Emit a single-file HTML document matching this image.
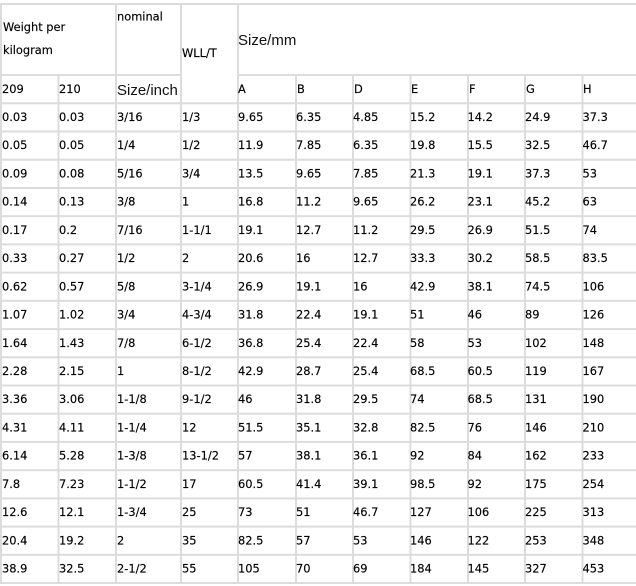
<!DOCTYPE html>
<html>
<head>
<meta charset="utf-8">
<style>
  html, body { margin: 0; padding: 0; background: #ffffff; }
  body { width: 636px; height: 586px; overflow: hidden; }
  svg { display: block; }
  .t { font-family: "DejaVu Sans", Verdana, sans-serif; font-size: 11.4px; fill: #000; stroke: #000; stroke-width: 0.15px; }
  .big { font-family: "Liberation Sans", Arial, sans-serif; font-size: 15px; fill: #111; }
</style>
</head>
<body>
<svg width="636" height="586" viewBox="0 0 636 586" xmlns="http://www.w3.org/2000/svg">
  <rect x="0" y="0" width="636" height="586" fill="#ffffff"/>
  <g fill="#dcdcdc">
    <rect x="0" y="3" width="640" height="2"/>
    <rect x="0" y="74" width="182" height="2"/>
    <rect x="237" y="74" width="403" height="2"/>
    <rect x="0" y="102.3" width="640" height="2"/>
    <rect x="0" y="130.5" width="640" height="2"/>
    <rect x="0" y="158.7" width="640" height="2"/>
    <rect x="0" y="187.0" width="640" height="2"/>
    <rect x="0" y="215.2" width="640" height="2"/>
    <rect x="0" y="243.4" width="640" height="2"/>
    <rect x="0" y="271.6" width="640" height="2"/>
    <rect x="0" y="299.8" width="640" height="2"/>
    <rect x="0" y="328.1" width="640" height="2"/>
    <rect x="0" y="356.3" width="640" height="2"/>
    <rect x="0" y="384.5" width="640" height="2"/>
    <rect x="0" y="412.7" width="640" height="2"/>
    <rect x="0" y="440.9" width="640" height="2"/>
    <rect x="0" y="469.2" width="640" height="2"/>
    <rect x="0" y="497.4" width="640" height="2"/>
    <rect x="0" y="525.6" width="640" height="2"/>
    <rect x="0" y="553.8" width="640" height="2"/>
    <rect x="0" y="582.0" width="640" height="2"/>
    <rect x="0" y="3" width="2" height="581"/>
    <rect x="115" y="3" width="2" height="581"/>
    <rect x="180" y="3" width="2" height="581"/>
    <rect x="237" y="3" width="2" height="581"/>
    <rect x="57.5" y="74" width="2" height="510"/>
    <rect x="295" y="74" width="2" height="510"/>
    <rect x="352" y="74" width="2" height="510"/>
    <rect x="409.5" y="74" width="2" height="510"/>
    <rect x="467" y="74" width="2" height="510"/>
    <rect x="524" y="74" width="2" height="510"/>
    <rect x="581.5" y="74" width="2" height="510"/>
  </g>

  <text class="t" x="3" y="31">Weight per</text>
  <text class="t" x="3" y="54">kilogram</text>
  <text class="t" x="117" y="20.5">nominal</text>
  <text class="t" x="182" y="57">WLL/T</text>
  <text class="big" x="238" y="45">Size/mm</text>

  <g transform="translate(0,93)">
    <text class="t" x="2">209</text>
    <text class="t" x="59">210</text>
    <text class="t" x="238">A</text>
    <text class="t" x="297">B</text>
    <text class="t" x="354">D</text>
    <text class="t" x="411">E</text>
    <text class="t" x="469">F</text>
    <text class="t" x="526">G</text>
    <text class="t" x="583">H</text>
  </g>
  <text class="big" x="117" y="95">Size/inch</text>

  <g transform="translate(0,121)"><text class="t" x="2">0.03</text><text class="t" x="59">0.03</text><text class="t" x="117">3/16</text><text class="t" x="182">1/3</text><text class="t" x="238">9.65</text><text class="t" x="296">6.35</text><text class="t" x="353">4.85</text><text class="t" x="410">15.2</text><text class="t" x="467.5">14.2</text><text class="t" x="525">24.9</text><text class="t" x="582.5">37.3</text></g>
  <g transform="translate(0,149.2)"><text class="t" x="2">0.05</text><text class="t" x="59">0.05</text><text class="t" x="117">1/4</text><text class="t" x="182">1/2</text><text class="t" x="238">11.9</text><text class="t" x="296">7.85</text><text class="t" x="353">6.35</text><text class="t" x="410">19.8</text><text class="t" x="467.5">15.5</text><text class="t" x="525">32.5</text><text class="t" x="582.5">46.7</text></g>
  <g transform="translate(0,177.4)"><text class="t" x="2">0.09</text><text class="t" x="59">0.08</text><text class="t" x="117">5/16</text><text class="t" x="182">3/4</text><text class="t" x="238">13.5</text><text class="t" x="296">9.65</text><text class="t" x="353">7.85</text><text class="t" x="410">21.3</text><text class="t" x="467.5">19.1</text><text class="t" x="525">37.3</text><text class="t" x="582.5">53</text></g>
  <g transform="translate(0,205.7)"><text class="t" x="2">0.14</text><text class="t" x="59">0.13</text><text class="t" x="117">3/8</text><text class="t" x="182">1</text><text class="t" x="238">16.8</text><text class="t" x="296">11.2</text><text class="t" x="353">9.65</text><text class="t" x="410">26.2</text><text class="t" x="467.5">23.1</text><text class="t" x="525">45.2</text><text class="t" x="582.5">63</text></g>
  <g transform="translate(0,233.9)"><text class="t" x="2">0.17</text><text class="t" x="59">0.2</text><text class="t" x="117">7/16</text><text class="t" x="182">1-1/1</text><text class="t" x="238">19.1</text><text class="t" x="296">12.7</text><text class="t" x="353">11.2</text><text class="t" x="410">29.5</text><text class="t" x="467.5">26.9</text><text class="t" x="525">51.5</text><text class="t" x="582.5">74</text></g>
  <g transform="translate(0,262.1)"><text class="t" x="2">0.33</text><text class="t" x="59">0.27</text><text class="t" x="117">1/2</text><text class="t" x="182">2</text><text class="t" x="238">20.6</text><text class="t" x="296">16</text><text class="t" x="353">12.7</text><text class="t" x="410">33.3</text><text class="t" x="467.5">30.2</text><text class="t" x="525">58.5</text><text class="t" x="582.5">83.5</text></g>
  <g transform="translate(0,290.3)"><text class="t" x="2">0.62</text><text class="t" x="59">0.57</text><text class="t" x="117">5/8</text><text class="t" x="182">3-1/4</text><text class="t" x="238">26.9</text><text class="t" x="296">19.1</text><text class="t" x="353">16</text><text class="t" x="410">42.9</text><text class="t" x="467.5">38.1</text><text class="t" x="525">74.5</text><text class="t" x="582.5">106</text></g>
  <g transform="translate(0,318.5)"><text class="t" x="2">1.07</text><text class="t" x="59">1.02</text><text class="t" x="117">3/4</text><text class="t" x="182">4-3/4</text><text class="t" x="238">31.8</text><text class="t" x="296">22.4</text><text class="t" x="353">19.1</text><text class="t" x="410">51</text><text class="t" x="467.5">46</text><text class="t" x="525">89</text><text class="t" x="582.5">126</text></g>
  <g transform="translate(0,346.8)"><text class="t" x="2">1.64</text><text class="t" x="59">1.43</text><text class="t" x="117">7/8</text><text class="t" x="182">6-1/2</text><text class="t" x="238">36.8</text><text class="t" x="296">25.4</text><text class="t" x="353">22.4</text><text class="t" x="410">58</text><text class="t" x="467.5">53</text><text class="t" x="525">102</text><text class="t" x="582.5">148</text></g>
  <g transform="translate(0,375)"><text class="t" x="2">2.28</text><text class="t" x="59">2.15</text><text class="t" x="117">1</text><text class="t" x="182">8-1/2</text><text class="t" x="238">42.9</text><text class="t" x="296">28.7</text><text class="t" x="353">25.4</text><text class="t" x="410">68.5</text><text class="t" x="467.5">60.5</text><text class="t" x="525">119</text><text class="t" x="582.5">167</text></g>
  <g transform="translate(0,403.2)"><text class="t" x="2">3.36</text><text class="t" x="59">3.06</text><text class="t" x="117">1-1/8</text><text class="t" x="182">9-1/2</text><text class="t" x="238">46</text><text class="t" x="296">31.8</text><text class="t" x="353">29.5</text><text class="t" x="410">74</text><text class="t" x="467.5">68.5</text><text class="t" x="525">131</text><text class="t" x="582.5">190</text></g>
  <g transform="translate(0,431.4)"><text class="t" x="2">4.31</text><text class="t" x="59">4.11</text><text class="t" x="117">1-1/4</text><text class="t" x="182">12</text><text class="t" x="238">51.5</text><text class="t" x="296">35.1</text><text class="t" x="353">32.8</text><text class="t" x="410">82.5</text><text class="t" x="467.5">76</text><text class="t" x="525">146</text><text class="t" x="582.5">210</text></g>
  <g transform="translate(0,459.6)"><text class="t" x="2">6.14</text><text class="t" x="59">5.28</text><text class="t" x="117">1-3/8</text><text class="t" x="182">13-1/2</text><text class="t" x="238">57</text><text class="t" x="296">38.1</text><text class="t" x="353">36.1</text><text class="t" x="410">92</text><text class="t" x="467.5">84</text><text class="t" x="525">162</text><text class="t" x="582.5">233</text></g>
  <g transform="translate(0,487.9)"><text class="t" x="2">7.8</text><text class="t" x="59">7.23</text><text class="t" x="117">1-1/2</text><text class="t" x="182">17</text><text class="t" x="238">60.5</text><text class="t" x="296">41.4</text><text class="t" x="353">39.1</text><text class="t" x="410">98.5</text><text class="t" x="467.5">92</text><text class="t" x="525">175</text><text class="t" x="582.5">254</text></g>
  <g transform="translate(0,516.1)"><text class="t" x="2">12.6</text><text class="t" x="59">12.1</text><text class="t" x="117">1-3/4</text><text class="t" x="182">25</text><text class="t" x="238">73</text><text class="t" x="296">51</text><text class="t" x="353">46.7</text><text class="t" x="410">127</text><text class="t" x="467.5">106</text><text class="t" x="525">225</text><text class="t" x="582.5">313</text></g>
  <g transform="translate(0,544.3)"><text class="t" x="2">20.4</text><text class="t" x="59">19.2</text><text class="t" x="117">2</text><text class="t" x="182">35</text><text class="t" x="238">82.5</text><text class="t" x="296">57</text><text class="t" x="353">53</text><text class="t" x="410">146</text><text class="t" x="467.5">122</text><text class="t" x="525">253</text><text class="t" x="582.5">348</text></g>
  <g transform="translate(0,572.5)"><text class="t" x="2">38.9</text><text class="t" x="59">32.5</text><text class="t" x="117">2-1/2</text><text class="t" x="182">55</text><text class="t" x="238">105</text><text class="t" x="296">70</text><text class="t" x="353">69</text><text class="t" x="410">184</text><text class="t" x="467.5">145</text><text class="t" x="525">327</text><text class="t" x="582.5">453</text></g>
</svg>
</body>
</html>
